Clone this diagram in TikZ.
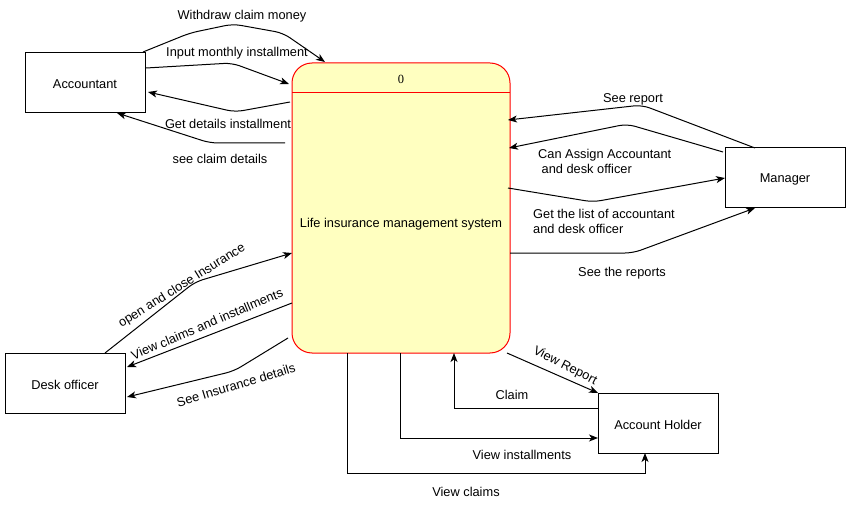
\documentclass[tikz,border=0pt]{standalone}
\usepackage{fontspec}
\setmainfont{Liberation Sans}
\newfontfamily\serifzero{Liberation Serif}
\usetikzlibrary{arrows.meta}
\definecolor{sysfill}{RGB}{255,255,192}
\begin{document}
\begin{tikzpicture}[x=1pt,y=-1pt,
  txt/.style={font=\fontsize{12.8}{14.5}\selectfont,inner sep=0pt},
  ent/.style={draw=black,line width=1pt,fill=white,minimum width=120pt,minimum height=60pt,inner sep=0pt,outer sep=0pt,txt},
  flow/.style={line width=1pt,-{Stealth[length=9pt,width=7pt,inset=2.5pt]},rounded corners=8pt},
  oflow/.style={line width=1pt,-{Stealth[length=9pt,width=7pt,inset=2.5pt]}},
  lbl/.style={txt,yshift=-1.5pt}]
\useasboundingbox (0,0) rectangle (851,505);
% main process
\node[draw=red,line width=1pt,fill=sysfill,rounded corners=20pt,minimum width=218pt,minimum height=290pt,inner sep=0pt,outer sep=0pt] (sys) at (401,208) {};
\draw[red,line width=1pt] ([shift={(0,30)}]sys.north west) -- ([shift={(0,30)}]sys.north east);
\node[txt,font=\serifzero\fontsize{12.5}{14}\selectfont] (zero) at (401,79) {0};
\node[lbl] (systxt) at (401,223) {Life insurance management system};
% entities
\node[ent] (acc) at (85,83) {};
\node[lbl] (acctxt) at (acc) {Accountant};
\node[ent] (mgr) at (785,178) {};
\node[lbl] (mgrtxt) at (mgr) {Manager};
\node[ent] (desk) at (65,383) {};
\node[lbl] (desktxt) at (desk) {Desk officer};
\node[ent] (holder) at (658,423) {};
\node[lbl] (holdertxt) at (holder) {Account Holder};
% accountant flows
\draw[flow] ([shift={(-2,-1)}]acc.north east) -- (190,33) -- (233,24) -- (283,33) -- ([shift={(33,-1)}]sys.north west);
\node[lbl] (l1) at (242,15) {Withdraw claim money};
\draw[flow] ([shift={(1,-15)}]acc.east) -- (232,63) -- ([shift={(-3,21)}]sys.north west);
\node[lbl] (l2) at (237,52) {Input monthly installment};
\draw[flow] ([shift={(-2,39)}]sys.north west) -- (235,112) -- ([shift={(3,9)}]acc.east);
\node[lbl] (l3) at (228,122) {Get details installment};
\draw[flow] ([shift={(-7,80)}]sys.north west) -- (210,143) -- ([shift={(-28,0)}]acc.south east);
\node[lbl] (l4) at (220,157) {see claim details};
% manager flows
\draw[flow] ([shift={(30,0)}]mgr.north west) -- (642,105) -- ([shift={(-2,57)}]sys.north east);
\node[lbl] (l5) at (633,98) {See report};
\draw[flow] ([shift={(-2,4)}]mgr.north west) -- (627,124) -- ([shift={(-1,85)}]sys.north east);
\node[lbl,anchor=west,align=left] (l6) at (538,160) {Can Assign Accountant\\\hspace*{3.5pt}and desk officer};
\draw[flow] ([shift={(-2,125)}]sys.north east) -- (593,202) -- (mgr.west);
\node[lbl,anchor=west,align=left] (l7) at (533,220) {Get the list of accountant\\and desk officer};
\draw[flow] ([shift={(0,190)}]sys.north east) -- (633,253) -- ([shift={(30,0)}]mgr.south west);
\node[lbl] (l8) at (622,272) {See the reports};
% desk officer flows
\draw[flow] ([shift={(40,0)}]desk.north) -- (195,282) -- ([shift={(0,190)}]sys.north west);
\node[txt,rotate=32] (l9) at (182,286) {open and close Insurance};
\draw[flow] ([shift={(0,-50)}]sys.south west) -- ([shift={(2,-16)}]desk.east);
\node[txt,rotate=23] (l10) at (207,324) {View claims and installments};
\draw[flow] ([shift={(-4,-15)}]sys.south west) -- (234,371) -- ([shift={(2,14)}]desk.east);
\node[txt,rotate=17] (l11) at (236,385) {See Insurance details};
% account holder flows
\draw[oflow] ([shift={(-3,0)}]sys.south east) -- (holder.north west);
\node[txt,rotate=-27] (l12) at (565,366) {View Report};
\draw[oflow] ([shift={(0,-15)}]holder.west) -| ([shift={(53,0)}]sys.south);
\node[lbl] (l13) at (512,393) {Claim};
\draw[oflow] ([shift={(-1,0)}]sys.south) |- ([shift={(0,15)}]holder.west);
\node[lbl] (l14) at (522,453) {View installments};
\draw[oflow] ([shift={(-54,0)}]sys.south) -- (347,473) -| ([shift={(-13,0)}]holder.south);
\node[lbl] (l15) at (466,490) {View claims};
\end{tikzpicture}
\end{document}
